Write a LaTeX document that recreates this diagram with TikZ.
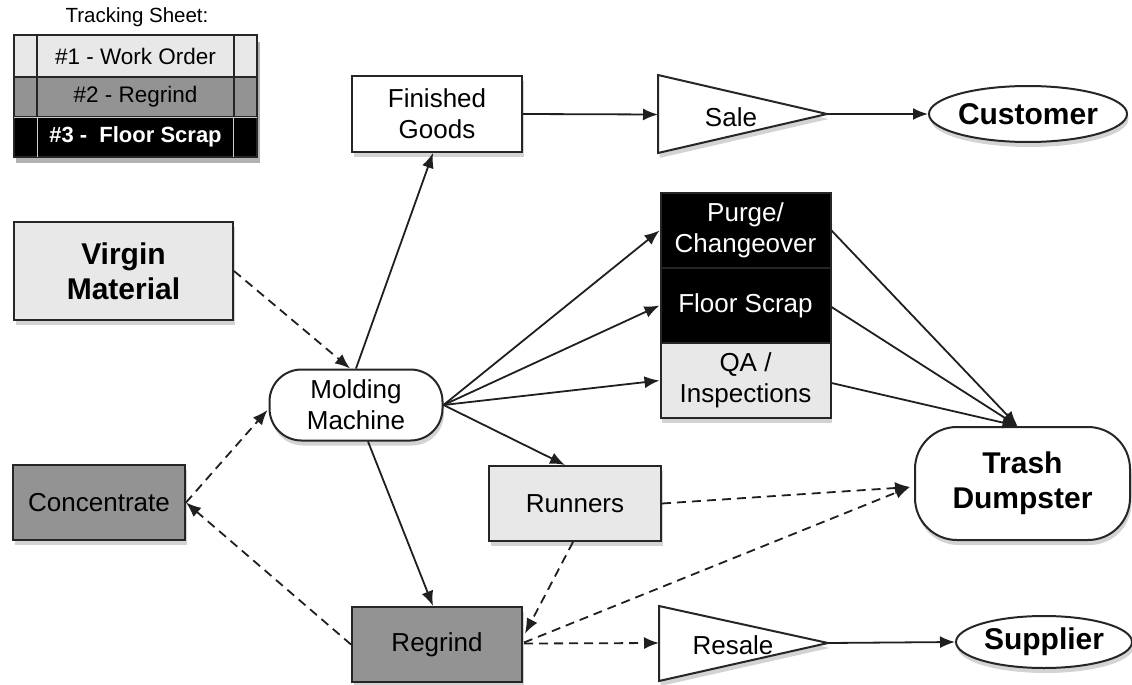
\documentclass[tikz,border=0pt]{standalone}
\usepackage{fontspec}
\setmainfont{Liberation Sans}
\usetikzlibrary{arrows.meta,shadows,calc,shapes.geometric}
\definecolor{lgray}{HTML}{E8E8E8}
\definecolor{mgray}{HTML}{939393}
\definecolor{edgec}{HTML}{262626}
\begin{document}
\begin{tikzpicture}[x=1pt,y=-1pt,
  shad/.style={drop shadow={shadow xshift=1.5pt,shadow yshift=-5pt,opacity=0.35}},
  box/.style={draw=edgec,line width=2pt,inner sep=0pt,align=center,shad,
    font=\fontsize{26}{31}\selectfont},
  bbox/.style={box,font=\fontsize{30}{35}\selectfont\bfseries},
  cell/.style={draw=edgec,line width=1.6pt,inner sep=0pt,minimum width=243pt,
    font=\fontsize{22.5}{26}\selectfont},
  txt/.style={inner sep=0pt,font=\fontsize{26}{31}\selectfont},
  conn/.style={draw=black!88,line width=1.8pt,-{Latex[length=15pt,width=12pt]}},
  dconn/.style={conn,dash pattern=on 9pt off 6pt},
  tri/.style={draw=edgec,line width=2pt,fill=white,shad}
]
\useasboundingbox (0,0) rectangle (1132,685);

% Tracking sheet
\node[inner sep=0pt,font=\fontsize{20.5}{24}\selectfont] (ttl) at (137,17) {Tracking Sheet:};
\fill[black,opacity=0.3] (16,42) rectangle (260,163);
\node[cell,fill=lgray,minimum height=42pt] (r1) at (135.5,56) {\#1 - Work Order};
\node[cell,fill=mgray,minimum height=40pt] (r2) at (135.5,97) {\#2 - Regrind};
\node[cell,fill=black,text=white,minimum height=40pt,font=\fontsize{22}{26}\selectfont\bfseries] (r3) at (135.5,137) {\#3 -\ \ Floor Scrap};
\draw[edgec,line width=1.6pt] ($(r1.north west)+(24,0)$) -- ($(r2.south west)+(24,0)$);
\draw[edgec,line width=1.6pt] ($(r1.north east)+(-24,0)$) -- ($(r2.south east)+(-24,0)$);
\draw[white!80!black,line width=1.3pt] ($(r3.north west)+(24,1)$) -- ($(r3.south west)+(24,-1)$);
\draw[white!80!black,line width=1.3pt] ($(r3.north east)+(-24,1)$) -- ($(r3.south east)+(-24,-1)$);
\draw[white!80!black,line width=1.3pt] ($(r3.north west)+(1,1)$) -- ($(r3.north east)+(-1,1)$);

% Main nodes
\node[box,fill=white,minimum width=170pt,minimum height=76pt] (fg) at (437,114) {Finished\\Goods};
\node[bbox,fill=lgray,minimum width=219pt,minimum height=98pt] (vm) at (123.5,271) {Virgin\\Material};
\node[box,fill=mgray,minimum width=172pt,minimum height=75pt] (co) at (99,502.5) {Concentrate};
\node[box,fill=white,rounded corners=32pt,minimum width=173pt,minimum height=71pt] (mm) at (356,405) {Molding\\Machine};
\node[box,fill=black,text=white,minimum width=170pt,minimum height=75pt] (pc) at (745.5,230.5) {Purge/\\Changeover};
\node[box,fill=black,text=white,minimum width=170pt,minimum height=75pt] (fs) at (745.5,305.5) {Floor Scrap};
\node[box,fill=lgray,minimum width=170pt,minimum height=75pt] (qa) at (745.5,380.5) {QA /\\Inspections};
\node[box,fill=lgray,minimum width=172pt,minimum height=75pt] (run) at (575,503.5) {Runners};
\node[box,fill=mgray,minimum width=170pt,minimum height=75pt] (rg) at (437,644.5) {Regrind};
\node[bbox,fill=white,rounded corners=42pt,minimum width=215pt,minimum height=113pt] (tr) at (1022.5,483.5) {Trash\\Dumpster};
\node[bbox,ellipse,fill=white,minimum width=186pt,minimum height=56pt] (cu) at (1028,114) {Customer};
\node[bbox,ellipse,fill=white,minimum width=176pt,minimum height=52pt] (su) at (1044,642) {Supplier};

% Triangles
\draw[tri] (658,75) -- (827,114) coordinate (saletip) -- (658,153) -- cycle;
\coordinate (salein) at (658,114.5);
\node[txt] (sale) at (731,117) {Sale};
\draw[tri] (659,606) -- (828,643) coordinate (resaletip) -- (659,681) -- cycle;
\coordinate (resalein) at (659,643);
\node[txt] (resale) at (733,645) {Resale};

% Connectors
\draw[dconn] (vm.east) -- ($(mm.north)+(-6,0)$);
\draw[conn] (mm.north) -- ($(fg.south)+(-4,0)$);
\draw[conn] (fg.east) -- (salein);
\draw[conn] (saletip) -- (cu.west);
\draw[conn] (mm.east) -- (pc.west);
\draw[conn] (mm.east) -- (fs.west);
\draw[conn] (mm.east) -- (qa.west);
\draw[conn] (mm.east) -- ($(run.north)+(-10,0)$);
\draw[conn] ($(mm.south)+(12,0)$) -- ($(rg.north)+(-4,0)$);
\draw[dconn] (co.east) -- ($(mm.west)+(-1,5)$);
\draw[dconn] (rg.west) -- (co.east);
\draw[conn] (pc.east) -- ($(tr.north)+(-5,0)$);
\draw[conn] ($(fs.east)+(0,1.5)$) -- ($(tr.north)+(-5,0)$);
\draw[conn] ($(qa.east)+(0,2.5)$) -- ($(tr.north)+(-5,0)$);
\draw[dconn] (run.east) -- ($(tr.west)+(-4,3.5)$);
\draw[dconn] ($(rg.east)+(1,-2)$) -- ($(tr.west)+(-4,3.5)$);
\draw[dconn] ($(run.south)+(-2,0)$) -- ($(rg.east)+(2,-11)$);
\draw[dconn] ($(rg.east)+(1,-1)$) -- (resalein);
\draw[conn] (resaletip) -- (su.west);
\end{tikzpicture}
\end{document}
